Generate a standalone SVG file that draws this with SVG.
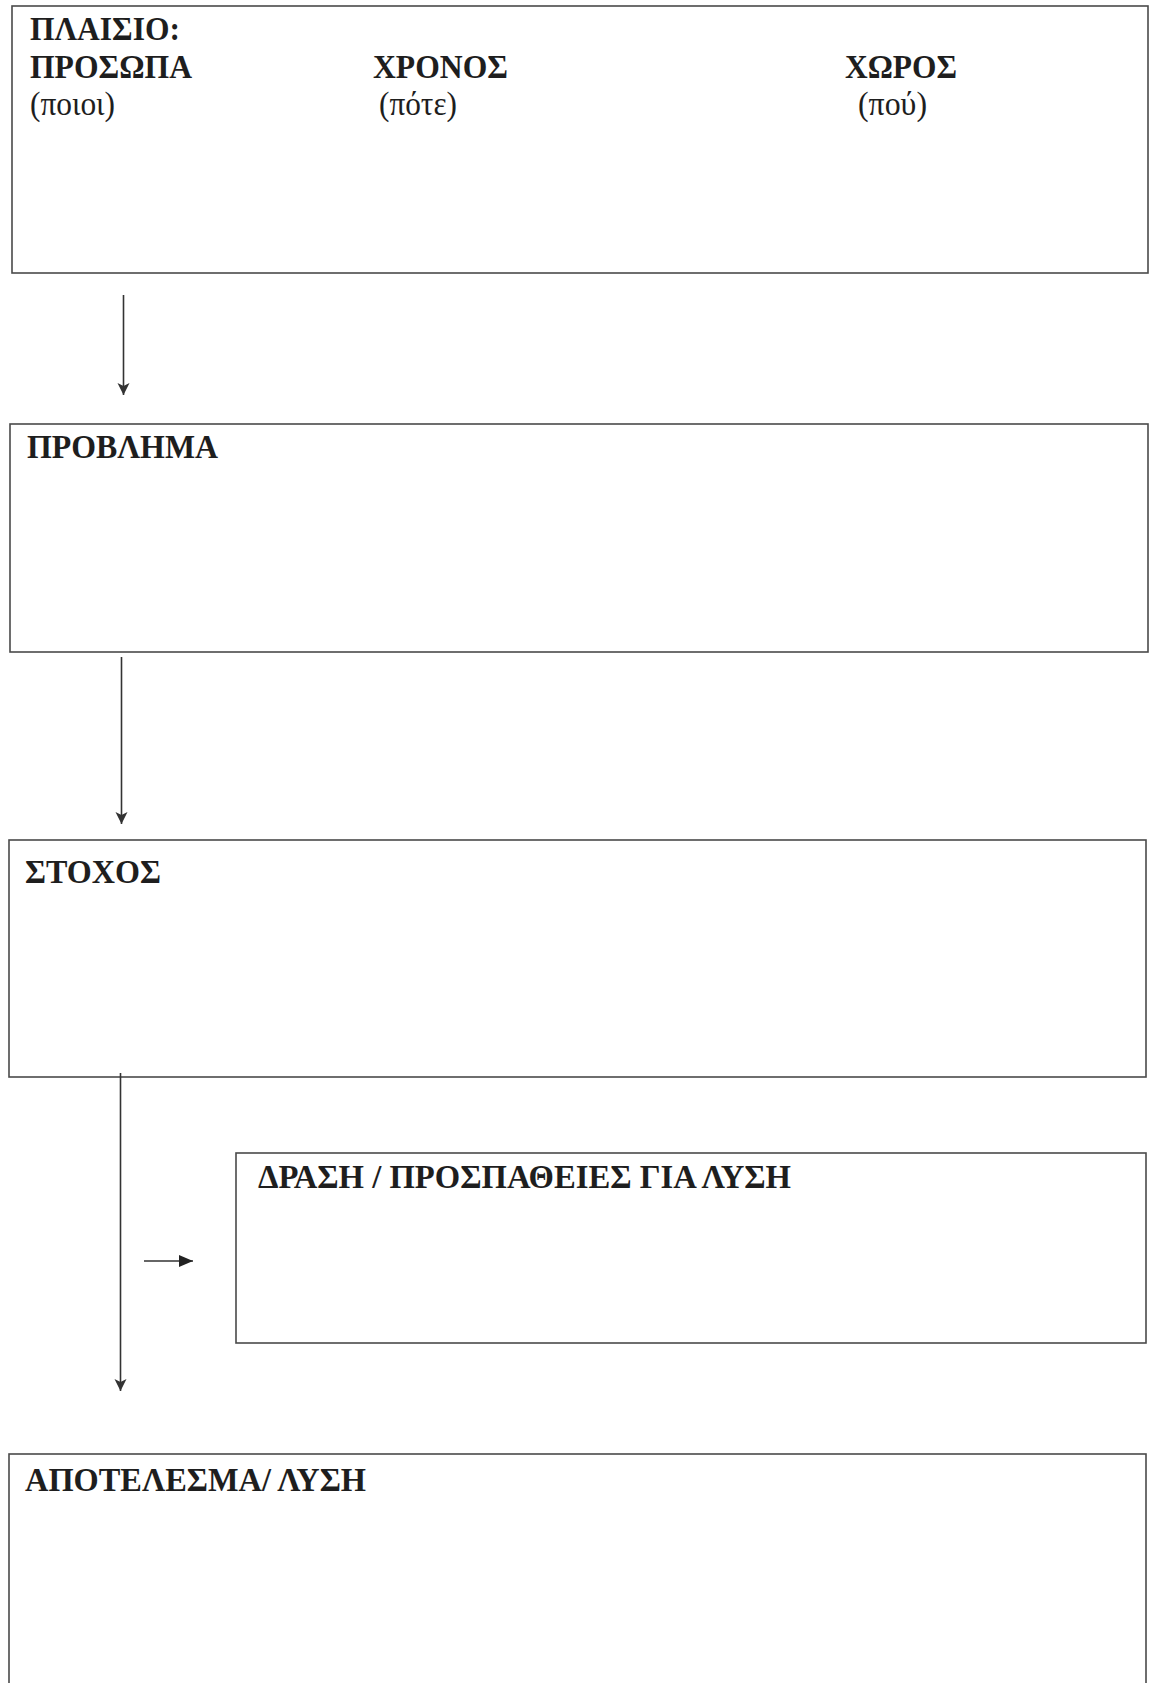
<svg xmlns="http://www.w3.org/2000/svg" width="1149" height="1683" viewBox="0 0 1149 1683">
  <style>
    .box { fill: #ffffff; stroke: #4a4a4a; stroke-width: 1.6; }
    .h { font-family: "Liberation Serif", "Times New Roman", serif; font-weight: bold; font-size: 34px; fill: #1e1e1e; }
    .r { font-family: "Liberation Serif", "Times New Roman", serif; font-size: 33px; fill: #1e1e1e; }
    .conn { stroke: #333333; stroke-width: 1.6; fill: none; }
  </style>
  <defs>
    <marker id="ah" markerUnits="userSpaceOnUse" markerWidth="14" markerHeight="14" refX="12" refY="6" orient="auto">
      <path d="M0,0 L12,6 L0,12 L3,6 z" fill="#333333"/>
    </marker>
    <marker id="ah2" markerUnits="userSpaceOnUse" markerWidth="16" markerHeight="14" refX="14" refY="6" orient="auto">
      <path d="M0,0 L14,6 L0,12 z" fill="#222222"/>
    </marker>
  </defs>
  <rect width="1149" height="1683" fill="#ffffff"/>

  <g id="plaisio">
    <rect class="box" x="12" y="6" width="1136" height="267"/>
    <text class="h" x="30" y="40" textLength="150" lengthAdjust="spacingAndGlyphs">ΠΛΑΙΣΙΟ:</text>
    <text class="h" x="30" y="78" textLength="162" lengthAdjust="spacingAndGlyphs">ΠΡΟΣΩΠΑ</text>
    <text class="r" x="30" y="115" textLength="85" lengthAdjust="spacingAndGlyphs">(ποιοι)</text>
    <text class="h" x="373" y="78" textLength="135" lengthAdjust="spacingAndGlyphs">ΧΡΟΝΟΣ</text>
    <text class="r" x="379" y="115" textLength="78" lengthAdjust="spacingAndGlyphs">(πότε)</text>
    <text class="h" x="845" y="78" textLength="112" lengthAdjust="spacingAndGlyphs">ΧΩΡΟΣ</text>
    <text class="r" x="858" y="115" textLength="69" lengthAdjust="spacingAndGlyphs">(πού)</text>
  </g>

  <g id="provlima">
    <rect class="box" x="10" y="424" width="1138" height="228"/>
    <text class="h" x="27" y="458" textLength="191" lengthAdjust="spacingAndGlyphs">ΠΡΟΒΛΗΜΑ</text>
  </g>

  <g id="stoxos">
    <rect class="box" x="9" y="840" width="1137" height="237"/>
    <text class="h" x="25" y="883" textLength="136" lengthAdjust="spacingAndGlyphs">ΣΤΟΧΟΣ</text>
  </g>

  <g id="drasi">
    <rect class="box" x="236" y="1153" width="910" height="190"/>
    <text class="h" x="258" y="1188" textLength="533" lengthAdjust="spacingAndGlyphs">ΔΡΑΣΗ / ΠΡΟΣΠΑΘΕΙΕΣ ΓΙΑ ΛΥΣΗ</text>
  </g>

  <g id="apotelesma">
    <rect class="box" x="9" y="1454" width="1137" height="260"/>
    <text class="h" x="25" y="1491" textLength="341" lengthAdjust="spacingAndGlyphs">ΑΠΟΤΕΛΕΣΜΑ/ ΛΥΣΗ</text>
  </g>

  <g id="connectors">
    <line class="conn" x1="123.5" y1="295" x2="123.5" y2="395" marker-end="url(#ah)"/>
    <line class="conn" x1="121.5" y1="657" x2="121.5" y2="824" marker-end="url(#ah)"/>
    <line class="conn" x1="120.5" y1="1073" x2="120.5" y2="1391" marker-end="url(#ah)"/>
    <line class="conn" x1="144" y1="1261" x2="193" y2="1261" stroke-width="2" marker-end="url(#ah2)"/>
  </g>
</svg>
